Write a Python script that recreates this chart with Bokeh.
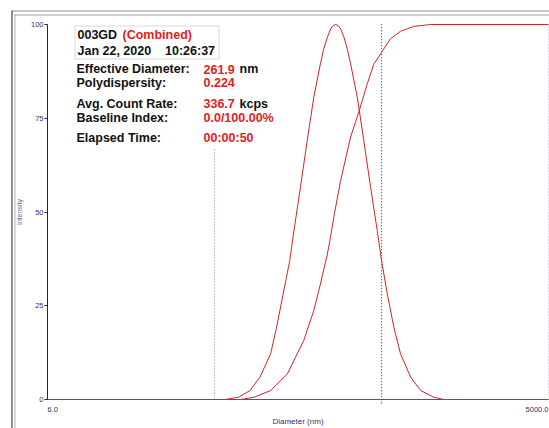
from bokeh.plotting import figure
from bokeh.models import Range1d, FixedTicker, Label, BoxAnnotation
from bokeh.embed import file_html
from bokeh.resources import INLINE

# ---------------- data ----------------
# intensity distribution (diameter in nm, intensity)
diam_dist = [6, 65, 78, 91, 104, 120, 130, 142, 155, 164, 179, 196, 214, 234, 245, 257, 268,
             277, 287, 297, 307, 321, 335, 351, 384, 419, 459, 502, 532, 574, 627, 686, 785,
             898, 1073, 1227, 5000]
int_dist = [0, 0, 0.6, 2.4, 6.0, 12.2, 19.3, 28.2, 37.0, 45.0, 56.6, 69.0, 80.6, 89.5, 93.6,
            96.6, 98.8, 99.7, 100.0, 99.7, 98.8, 96.6, 93.6, 89.5, 80.6, 69.0, 56.6, 45.0,
            37.0, 28.2, 19.3, 12.2, 6.0, 2.4, 0.6, 0, 0]
# cumulative distribution
diam_cum = [6, 80, 96, 120, 150, 187, 214, 234, 257, 268, 280, 307, 351, 397, 439, 480,
            532, 600, 686, 820, 1027, 5000]
int_cum = [0, 0, 0.6, 2.4, 6.8, 15.7, 23.7, 30.8, 38.8, 43.3, 48.6, 58.4, 70.0, 77.5, 84.2,
           89.5, 92.6, 96.2, 98.2, 99.5, 100, 100]
# baseline segment under the distribution
base_diam = [71, 1475]
base_int = [0, 0]
# vertical marker lines (nm)
marker_diam = [56.5, 532]

y_ticks = [0, 25, 50, 75, 100]
x_tick_values = [6, 5000]
x_tick_labels = ["6.0", "5000.0"]

sample_name = "003GD"
sample_tag = "(Combined)"
run_date = "Jan 22, 2020"
run_time = "10:26:37"
info_labels = ["Effective Diameter:", "Polydispersity:", "Avg. Count Rate:",
               "Baseline Index:", "Elapsed Time:"]
info_values = ["261.9", "0.224", "336.7", "0.0/100.00%", "00:00:50"]
info_units = ["nm", "", "kcps", "", ""]

# ---------------- layout ----------------
W, H = 549, 428
NAVY = "#1e1e6e"
RED_LINE = "#c82828"
RED_TXT = "#e01e1e"
AXTXT = "#34346a"
FONT = "Liberation Sans"

# frame covers the whole canvas; ranges chosen so 6 nm sits at x=47 px,
# 5000 nm at x=548 px, intensity 0 at y=399 px and 100 at y=24 px
p = figure(width=W, height=H, x_axis_type="log",
           x_range=Range1d(3.1929, 5067.6), y_range=Range1d(-7.7333, 106.4),
           output_backend="svg", toolbar_location=None, title=None,
           min_border_left=0, min_border_right=0, min_border_top=0, min_border_bottom=0)
p.outline_line_color = None
p.grid.visible = False
p.background_fill_color = "white"
p.border_fill_color = "white"


def sx(px):
    return px


def sy(py):
    return H - py


# y axis
yax = p.yaxis[0]
yax.fixed_location = x_tick_values[0]
yax.bounds = (y_ticks[0], y_ticks[-1])
yax.ticker = FixedTicker(ticks=y_ticks)
yax.minor_tick_line_color = None
yax.major_tick_out = 3
yax.major_tick_in = 0
yax.axis_line_color = NAVY
yax.major_tick_line_color = NAVY
yax.major_label_text_font = FONT
yax.major_label_text_font_size = "7.5px"
yax.major_label_text_color = AXTXT
yax.major_label_standoff = 1
yax.axis_label = "Intensity"
yax.axis_label_text_font = FONT
yax.axis_label_text_font_size = "7px"
yax.axis_label_text_font_style = "normal"
yax.axis_label_text_color = "#6a6aa0"
yax.axis_label_standoff = 5

# x axis (label only)
xax = p.xaxis[0]
xax.fixed_location = y_ticks[0]
xax.bounds = (x_tick_values[0], x_tick_values[1])
xax.ticker = FixedTicker(ticks=[])
xax.axis_line_color = None
xax.major_tick_line_color = None
xax.minor_tick_line_color = None
xax.major_tick_out = 0
xax.major_tick_in = 0
xax.major_label_standoff = 0
xax.axis_label = "Diameter (nm)"
xax.axis_label_text_font = FONT
xax.axis_label_text_font_size = "8px"
xax.axis_label_text_font_style = "normal"
xax.axis_label_text_color = AXTXT
xax.axis_label_standoff = 17

# marker lines and right edge of the plot area
p.segment(x0=[marker_diam[0]], y0=[y_ticks[0]], x1=[marker_diam[0]], y1=[y_ticks[-1]],
          line_color="#7878a8", line_dash="1 2", line_width=1)
p.segment(x0=[marker_diam[1]], y0=[-1], x1=[marker_diam[1]], y1=[y_ticks[-1] + 0.3],
          line_color="#26266e", line_dash="1 2", line_width=1)
p.segment(x0=[x_tick_values[1]], y0=[y_ticks[0]], x1=[x_tick_values[1]], y1=[y_ticks[-1]],
          line_color="#b8b8c8", line_dash="1 2", line_width=1)

# curves
p.line(diam_dist, int_dist, line_color=RED_LINE, line_width=1)
p.line(diam_cum, int_cum, line_color=RED_LINE, line_width=1)
p.line(base_diam, base_int, line_color="#5050a0", line_width=1.2)


def sbox(l, r, t, b, **kw):
    return BoxAnnotation(left=sx(l), right=sx(r), top=sy(t), bottom=sy(b),
                         left_units="screen", right_units="screen",
                         top_units="screen", bottom_units="screen", **kw)


# white backing of the info panel
p.add_layout(sbox(70, 290, 24, 148, fill_color="white", fill_alpha=1, line_color=None))
# box around the sample name
p.add_layout(sbox(74.5, 218.5, 25.5, 58.5, fill_color=None, fill_alpha=0,
                  line_color="#808080", line_width=1))


def txt(x, y, text, color="#111111", size="12.5px", bold=True, align="left"):
    p.add_layout(Label(x=sx(x), y=sy(y), x_units="screen", y_units="screen", text=text,
                       text_font=FONT, text_font_size=size,
                       text_font_style="bold" if bold else "normal",
                       text_color=color, text_align=align, text_baseline="alphabetic"))


txt(77, 34.5, sample_name)
txt(122, 34.5, sample_tag, color=RED_TXT)
txt(77, 50.3, run_date)
txt(164.5, 50.3, run_time)

row_y = [68.7, 82.2, 103.4, 117.8, 137.8]
for yy, lab, val, unit in zip(row_y, info_labels, info_values, info_units):
    txt(76, yy, lab)
    txt(203, yy, val, color=RED_TXT)
    if unit:
        txt(239, yy, unit)

# x tick labels at the ends of the axis
for xv, lab, al in zip(x_tick_values, x_tick_labels, ["left", "right"]):
    p.add_layout(Label(x=xv, y=sy(409), x_units="data", y_units="screen", text=lab,
                       text_font=FONT, text_font_size="7.5px", text_color=AXTXT,
                       text_align=al, text_baseline="middle"))

# outer window frame
p.add_layout(sbox(11, 12, 10, 428, fill_color="#202020", fill_alpha=1, line_color=None))
p.add_layout(sbox(11, 549, 10, 11, fill_color="#8a8a8a", fill_alpha=1, line_color=None))
p.add_layout(sbox(14, 15, 14, 428, fill_color="#b4b4b4", fill_alpha=1, line_color=None))
p.add_layout(sbox(14, 549, 14, 15, fill_color="#a0a0a0", fill_alpha=1, line_color=None))

open("out.html", "w").write(file_html(p, INLINE))
